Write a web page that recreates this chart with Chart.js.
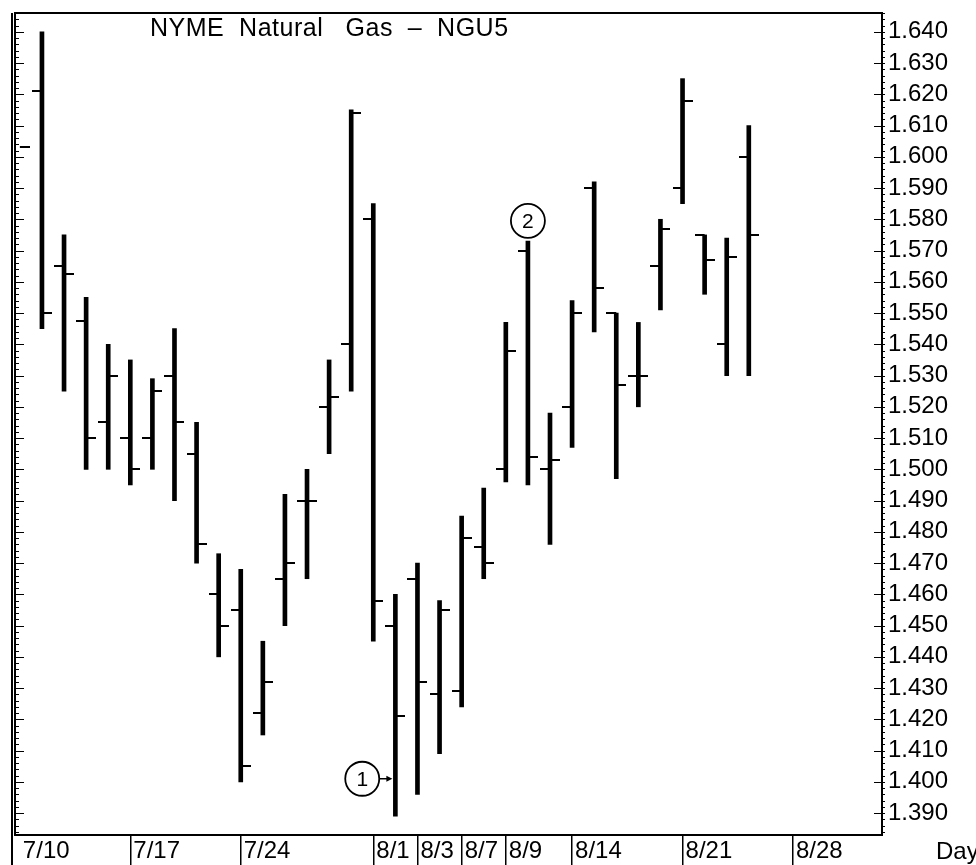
<!DOCTYPE html>
<html>
<head>
<meta charset="utf-8">
<title>NYME Natural Gas - NGU5</title>
<script src="https://cdn.jsdelivr.net/npm/chart.js@4.4.0/dist/chart.umd.min.js"></script>
<style>
  html, body { margin: 0; padding: 0; background: #fff; }
  #wrap { width: 976px; height: 865px; position: relative; }
</style>
</head>
<body>
<div id="wrap"><canvas id="ngChart"></canvas></div>
<script>
// trading days, one bar each (7/10 only shows its close)
const dates = ['7/10', '7/11', '7/12', '7/13', '7/14', '7/17', '7/18', '7/19', '7/20', '7/21',
  '7/24', '7/25', '7/26', '7/27', '7/28', '7/31', '8/1', '8/2', '8/3', '8/4',
  '8/7', '8/8', '8/9', '8/10', '8/11', '8/14', '8/15', '8/16', '8/17', '8/18',
  '8/21', '8/22', '8/23', '8/24'];
const opens = [null, 1.621, 1.565, 1.5475, 1.515, 1.510, 1.510, 1.530, 1.505, 1.460,
  1.455, 1.422, 1.465, 1.490, 1.520, 1.540, 1.580, 1.450, 1.465, 1.428,
  1.429, 1.475, 1.500, 1.570, 1.500, 1.520, 1.590, 1.550, 1.530, 1.565,
  1.590, 1.575, 1.540, 1.600];
const highs = [null, 1.640, 1.575, 1.555, 1.540, 1.535, 1.529, 1.545, 1.515, 1.473,
  1.468, 1.445, 1.492, 1.500, 1.535, 1.615, 1.585, 1.460, 1.470, 1.458,
  1.485, 1.494, 1.547, 1.573, 1.518, 1.554, 1.592, 1.550, 1.547, 1.580,
  1.625, 1.575, 1.574, 1.610];
const lows = [null, 1.545, 1.525, 1.500, 1.500, 1.495, 1.500, 1.490, 1.470, 1.440,
  1.400, 1.415, 1.450, 1.465, 1.505, 1.525, 1.445, 1.389, 1.396, 1.409,
  1.424, 1.465, 1.496, 1.495, 1.476, 1.507, 1.544, 1.497, 1.520, 1.551,
  1.585, 1.556, 1.530, 1.530];
const closes = [1.603, 1.550, 1.5625, 1.510, 1.530, 1.500, 1.525, 1.515, 1.476, 1.450,
  1.405, 1.432, 1.470, 1.490, 1.523, 1.614, 1.458, 1.421, 1.432, 1.455,
  1.478, 1.470, 1.538, 1.504, 1.503, 1.550, 1.558, 1.527, 1.530, 1.577,
  1.618, 1.567, 1.568, 1.575];

// date strip under the chart: day index -> label
const axisDays = [0, 5, 10, 16, 18, 20, 22, 25, 30, 35];
const axisLabels = ['7/10', '7/17', '7/24', '8/1', '8/3', '8/7', '8/9', '8/14', '8/21', '8/28'];

// circled notes
const notes = [
  { text: '1', day: 15.5, value: 1.401, arrowTo: 17 },
  { text: '2', day: 23.0, value: 1.5795 }
];

const FONT = "'Liberation Sans', Arial, sans-serif";

function tickImage(side) {
  const c = document.createElement('canvas');
  c.width = 20; c.height = 2;
  const g = c.getContext('2d');
  g.fillStyle = '#000';
  g.fillRect(side === 'left' ? 0 : 10, 0, 10, 2);
  return c;
}

const rangeData = [];
dates.forEach((d, i) => {
  if (highs[i] != null) rangeData.push({ x: i, y: [lows[i], highs[i]] });
});
const openData = dates.map((d, i) => ({ x: i, y: opens[i] })).filter(p => p.y != null);
const closeData = dates.map((d, i) => ({ x: i, y: closes[i] })).filter(p => p.y != null);

const decor = {
  id: 'decor',
  afterDraw(chart) {
    const { ctx, chartArea: a, scales: { x, y } } = chart;
    ctx.save();
    ctx.strokeStyle = '#000';
    ctx.fillStyle = '#000';

    // frame
    ctx.lineWidth = 2;
    ctx.strokeRect(a.left, a.top, a.right - a.left, a.bottom - a.top);
    ctx.beginPath();
    ctx.moveTo(a.left - 3, a.top);
    ctx.lineTo(a.left - 3, chart.height);
    ctx.stroke();

    // price ticks on both borders
    ctx.lineWidth = 1;
    const k0 = Math.ceil(y.min * 500), k1 = Math.floor(y.max * 500);
    for (let k = k0; k <= k1; k++) {
      const py = Math.round(y.getPixelForValue(k / 500)) + 0.5;
      const major = k % 5 === 0;
      ctx.beginPath();
      ctx.moveTo(a.left, py); ctx.lineTo(a.left + (major ? 9 : 4), py);
      ctx.moveTo(a.right - (major ? 8 : 0), py); ctx.lineTo(a.right + 3, py);
      ctx.stroke();
    }

    // title
    ctx.font = '25px ' + FONT;
    ctx.letterSpacing = '0.5px';
    ctx.textBaseline = 'middle';
    ctx.textAlign = 'left';
    ctx.fillText('NYME  Natural   Gas  –  NGU5', a.left + 135, a.top + 16);
    ctx.letterSpacing = '0px';

    // axis caption
    ctx.font = '24px ' + FONT;
    ctx.fillText('Day', a.right + 54, a.bottom + 17);

    // circled notes
    notes.forEach(n => {
      const cx = x.getPixelForValue(n.day);
      const cy = y.getPixelForValue(n.value);
      ctx.lineWidth = 1.8;
      ctx.beginPath();
      ctx.arc(cx, cy, 17, 0, Math.PI * 2);
      ctx.stroke();
      ctx.font = '21px ' + FONT;
      ctx.textAlign = 'center';
      ctx.fillText(n.text, cx, cy + 1);
      if (n.arrowTo != null) {
        const tx = x.getPixelForValue(n.arrowTo) - 3;
        ctx.lineWidth = 1.5;
        ctx.beginPath();
        ctx.moveTo(cx + 17, cy); ctx.lineTo(tx - 4, cy);
        ctx.stroke();
        ctx.beginPath();
        ctx.moveTo(tx, cy); ctx.lineTo(tx - 6, cy - 3); ctx.lineTo(tx - 6, cy + 3);
        ctx.closePath();
        ctx.fill();
      }
    });
    ctx.restore();
  }
};

const ctx = document.getElementById('ngChart').getContext('2d');
const chart = new Chart(ctx, {
  type: 'bar',
  data: {
    datasets: [
      {
        label: 'High-Low',
        data: rangeData,
        backgroundColor: '#000',
        borderWidth: 0,
        barThickness: 4
      },
      {
        type: 'scatter',
        label: 'Open',
        data: openData,
        pointStyle: tickImage('left'),
        pointRadius: 5
      },
      {
        type: 'scatter',
        label: 'Close',
        data: closeData,
        pointStyle: tickImage('right'),
        pointRadius: 5
      }
    ]
  },
  options: {
    responsive: true,
    maintainAspectRatio: false,
    animation: false,
    layout: { padding: { left: 15, top: 13, right: 0, bottom: 0 } },
    plugins: {
      legend: { display: false },
      tooltip: { enabled: false }
    },
    scales: {
      x: {
        type: 'linear',
        offset: false,
        min: -0.22,
        max: 39.03,
        afterBuildTicks: s => { s.ticks = axisDays.map(v => ({ value: v })); },
        afterFit: s => { s.height = 30; s.paddingLeft = 0; s.paddingRight = 0; },
        border: { display: false },
        grid: {
          offset: false,
          drawOnChartArea: false,
          drawTicks: true,
          tickLength: 30,
          lineWidth: 1.5,
          color: c => (c.index === 0 ? 'rgba(0,0,0,0)' : '#000')
        },
        ticks: {
          autoSkip: false,
          maxRotation: 0,
          align: 'start',
          labelOffset: 3,
          padding: -28,
          color: '#000',
          font: { family: FONT, size: 24 },
          callback: v => axisLabels[axisDays.indexOf(v)]
        }
      },
      y: {
        position: 'right',
        min: 1.383,
        max: 1.646,
        afterFit: s => { s.width = 94; s.paddingTop = 0; s.paddingBottom = 0; },
        border: { display: false },
        grid: { display: false, drawTicks: false },
        ticks: {
          stepSize: 0.01,
          includeBounds: false,
          autoSkip: false,
          padding: 6,
          color: '#000',
          font: { family: FONT, size: 24 },
          callback: v => v.toFixed(3)
        }
      }
    }
  },
  plugins: [decor]
});
</script>
</body>
</html>
